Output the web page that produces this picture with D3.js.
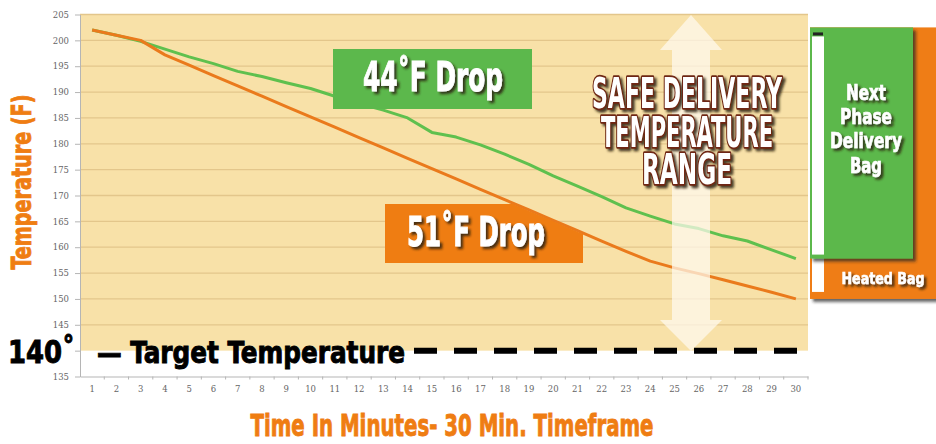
<!DOCTYPE html>
<html>
<head>
<meta charset="utf-8">
<script src="https://cdn.jsdelivr.net/npm/d3@7/dist/d3.min.js"></script>
<style>
  body { margin: 0; background: #fff; }
  svg { display: block; }
</style>
</head>
<body>
<div id="chart"></div>
<script>
// minutes on the x axis
const minutes = [1, 2, 3, 4, 5, 6, 7, 8, 9, 10, 11, 12, 13, 14, 15,
                 16, 17, 18, 19, 20, 21, 22, 23, 24, 25, 26, 27, 28, 29, 30];
// heated bag (orange line)
const heatedBagTemps = [202, 201, 200, 197.2, 195.2, 193.2, 191.2, 189.2, 187.2, 185.2,
                        183.2, 181.2, 179.2, 177.2, 175.2, 173.2, 171.2, 169.2, 167.2, 165.2,
                        163.2, 161.2, 159.2, 157.3, 156, 154.9, 153.7, 152.5, 151.3, 150];
// next phase delivery bag (green line)
const nextPhaseTemps = [202, 201, 199.8, 198.3, 196.8, 195.5, 194, 193, 191.8, 190.7,
                        189.2, 187.8, 186.5, 185, 182.2, 181.3, 179.8, 178, 176, 173.8,
                        171.8, 169.8, 167.6, 166, 164.5, 163.6, 162.2, 161.2, 159.5, 157.8];
const yTicks = [135, 140, 145, 150, 155, 160, 165, 170, 175, 180, 185, 190, 195, 200, 205];
const targetTemp = 140;
const startTemp = 202.5;

const width = 936, height = 444;
const orange = "#ef7d12", green = "#5cb84c";
const condensed = "'DejaVu Sans Condensed','Liberation Sans Narrow','DejaVu Sans',sans-serif";

const svg = d3.select("#chart").append("svg")
    .attr("width", width)
    .attr("height", height);

const defs = svg.append("defs");
defs.append("filter").attr("id", "shadow")
    .attr("x", "-20%").attr("y", "-20%").attr("width", "140%").attr("height", "140%")
  .append("feDropShadow")
    .attr("dx", 2.5).attr("dy", 2.5).attr("stdDeviation", 0.8)
    .attr("flood-color", "#2b1a08").attr("flood-opacity", 0.85);
defs.append("filter").attr("id", "panelShadow")
    .attr("x", "-10%").attr("y", "-10%").attr("width", "130%").attr("height", "130%")
  .append("feDropShadow")
    .attr("dx", 3).attr("dy", 3).attr("stdDeviation", 1.5)
    .attr("flood-color", "#222").attr("flood-opacity", 0.7);

const x = d3.scaleBand()
    .domain(minutes)
    .range([80, 808]);
const y = d3.scaleLinear()
    .domain([135, 205])
    .range([376.5, 14.5]);
const cx = m => x(m) + x.bandwidth() / 2;

// heavier condensed text
function heavy(sel, size, color) {
  return sel.attr("font-family", condensed).attr("font-weight", "bold")
    .attr("font-size", size).attr("fill", color)
    .attr("stroke", color).attr("stroke-width", 0.9)
    .attr("lengthAdjust", "spacingAndGlyphs");
}

// plot background (down to target temperature)
svg.append("rect")
    .attr("x", 80).attr("y", y(205))
    .attr("width", 808 - 80).attr("height", y(targetTemp) - y(205))
    .attr("fill", "#f8e1a8");

svg.append("g").selectAll("line")
    .data(yTicks.filter(t => t > targetTemp))
    .join("line")
    .attr("x1", 80).attr("x2", 808)
    .attr("y1", d => y(d)).attr("y2", d => y(d))
    .attr("stroke", "#e3c68b")
    .attr("stroke-width", 1.3);

// axes
const yAxis = svg.append("g")
    .attr("transform", "translate(80,0)")
    .call(d3.axisLeft(y).tickValues(yTicks).tickSize(5).tickSizeOuter(0).tickPadding(6)
        .tickFormat(d => d === targetTemp ? "" : d));
yAxis.select(".domain").attr("stroke", "#b5b5b5");
yAxis.selectAll(".tick line").attr("stroke", "#b5b5b5");
yAxis.selectAll("text").attr("fill", "#666").attr("font-size", 8.5)
    .attr("font-family", "'DejaVu Serif',serif");

const xAxis = svg.append("g")
    .attr("transform", "translate(0," + y(135) + ")")
    .call(d3.axisBottom(x).tickSize(0).tickSizeOuter(0).tickPadding(9));
xAxis.select(".domain").attr("stroke", "#b5b5b5");
xAxis.selectAll("text").attr("fill", "#666").attr("font-size", 8.5)
    .attr("font-family", "'DejaVu Serif',serif");
xAxis.selectAll(".minor").data(minutes).join("line")
    .attr("class", "minor")
    .attr("x1", d => x(d) + x.bandwidth()).attr("x2", d => x(d) + x.bandwidth())
    .attr("y1", 0).attr("y2", 3)
    .attr("stroke", "#b5b5b5");

// axis titles
svg.append("text")
    .attr("transform", "translate(31,182) rotate(-90)")
    .attr("text-anchor", "middle")
    .call(heavy, 27, orange)
    .attr("textLength", 175)
    .text("Temperature (F)");

svg.append("text")
    .attr("x", 452).attr("y", 436)
    .attr("text-anchor", "middle")
    .call(heavy, 31, orange)
    .attr("textLength", 403)
    .text("Time In Minutes- 30 Min. Timeframe");

// lines
const line = d3.line()
    .x((d, i) => cx(minutes[i]))
    .y(d => y(d));

svg.append("path")
    .datum(nextPhaseTemps)
    .attr("d", line)
    .attr("fill", "none")
    .attr("stroke", "#5fc04e")
    .attr("stroke-width", 3)
    .attr("stroke-linejoin", "round");

svg.append("path")
    .datum(heatedBagTemps)
    .attr("d", line)
    .attr("fill", "none")
    .attr("stroke", "#ea7a1c")
    .attr("stroke-width", 3)
    .attr("stroke-linejoin", "round");

// 44F label
svg.append("rect")
    .attr("x", 333).attr("y", 49).attr("width", 199).attr("height", 60)
    .attr("fill", green);
svg.append("text")
    .attr("x", 433).attr("y", 91)
    .attr("text-anchor", "middle")
    .call(heavy, 40, "#fff")
    .attr("filter", "url(#shadow)")
    .attr("textLength", 140)
    .text("44˚F Drop");

// 51F label, box cut by the orange line
defs.append("clipPath").attr("id", "belowOrange")
  .append("path")
    .datum(heatedBagTemps)
    .attr("d", d3.area()
        .x((d, i) => cx(minutes[i]))
        .y0(height)
        .y1(d => y(d) + 1));
svg.append("rect")
    .attr("x", 385).attr("y", 204).attr("width", 198).attr("height", 59)
    .attr("fill", orange)
    .attr("clip-path", "url(#belowOrange)");
svg.append("text")
    .attr("x", 476).attr("y", 246)
    .attr("text-anchor", "middle")
    .call(heavy, 40, "#fff")
    .attr("filter", "url(#shadow)")
    .attr("textLength", 138)
    .text("51˚F Drop");

// safe range double arrow
const ax = 691;
svg.append("path")
    .attr("d", `M${ax},15 L${ax + 31},50 L${ax + 19},50 L${ax + 19},320 L${ax + 31},320 L${ax},351
               L${ax - 31},320 L${ax - 19},320 L${ax - 19},50 L${ax - 31},50 Z`)
    .attr("fill", "#fffaf0")
    .attr("opacity", 0.72);

const safeLines = [["SAFE DELIVERY", 108, 190], ["TEMPERATURE", 147, 172], ["RANGE", 184, 90]];
svg.append("g").selectAll("text")
    .data(safeLines)
    .join("text")
    .attr("x", 687).attr("y", d => d[1])
    .attr("text-anchor", "middle")
    .attr("font-family", condensed).attr("font-weight", "bold")
    .attr("font-size", 42).attr("fill", "#fff")
    .attr("stroke", "#6e2612").attr("stroke-width", 3.5)
    .attr("paint-order", "stroke")
    .attr("stroke-linejoin", "round")
    .attr("filter", "url(#shadow)")
    .attr("textLength", d => d[2]).attr("lengthAdjust", "spacingAndGlyphs")
    .text(d => d[0]);

// target temperature
svg.append("text")
    .attr("x", 8).attr("y", 363)
    .call(heavy, 32, "#000")
    .attr("textLength", 67)
    .text("140˚");
svg.append("text")
    .attr("x", 97).attr("y", 363)
    .call(heavy, 30, "#000")
    .attr("textLength", 308)
    .text("— Target Temperature");
svg.append("line")
    .attr("x1", 414).attr("x2", cx(30) + 2)
    .attr("y1", y(targetTemp)).attr("y2", y(targetTemp))
    .attr("stroke", "#000").attr("stroke-width", 6)
    .attr("stroke-dasharray", "23,17");

// right side bag panels
const panelX = 810;
svg.append("rect")
    .attr("x", panelX).attr("y", y(startTemp))
    .attr("width", width - panelX).attr("height", y(heatedBagTemps[29]) - y(startTemp))
    .attr("fill", orange)
    .attr("filter", "url(#panelShadow)");
svg.append("rect")
    .attr("x", panelX + 2).attr("y", y(startTemp) + 9)
    .attr("width", 12).attr("height", y(heatedBagTemps[29]) - y(startTemp) - 16)
    .attr("fill", "#fff");
svg.append("rect")
    .attr("x", panelX).attr("y", y(startTemp))
    .attr("width", 103).attr("height", y(nextPhaseTemps[29]) - y(startTemp))
    .attr("fill", green)
    .attr("filter", "url(#panelShadow)");
svg.append("rect")
    .attr("x", panelX + 2).attr("y", y(startTemp) + 9)
    .attr("width", 12).attr("height", y(nextPhaseTemps[29]) - y(startTemp) - 13)
    .attr("fill", "#fff");
svg.append("rect")
    .attr("x", panelX + 3).attr("y", y(startTemp) + 5)
    .attr("width", 10).attr("height", 3)
    .attr("fill", "#222");

const bagLines = [["Next", 100, 40], ["Phase", 124, 52], ["Delivery", 148, 72], ["Bag", 173, 32]];
svg.append("g").selectAll("text")
    .data(bagLines)
    .join("text")
    .attr("x", 866).attr("y", d => d[1])
    .attr("text-anchor", "middle")
    .call(heavy, 22, "#fff")
    .attr("stroke-width", 0.6)
    .attr("filter", "url(#shadow)")
    .attr("textLength", d => d[2])
    .text(d => d[0]);

svg.append("text")
    .attr("x", 883).attr("y", 284)
    .attr("text-anchor", "middle")
    .call(heavy, 16, "#fff")
    .attr("stroke-width", 0.5)
    .attr("filter", "url(#shadow)")
    .attr("textLength", 83)
    .text("Heated Bag");
</script>
</body>
</html>
